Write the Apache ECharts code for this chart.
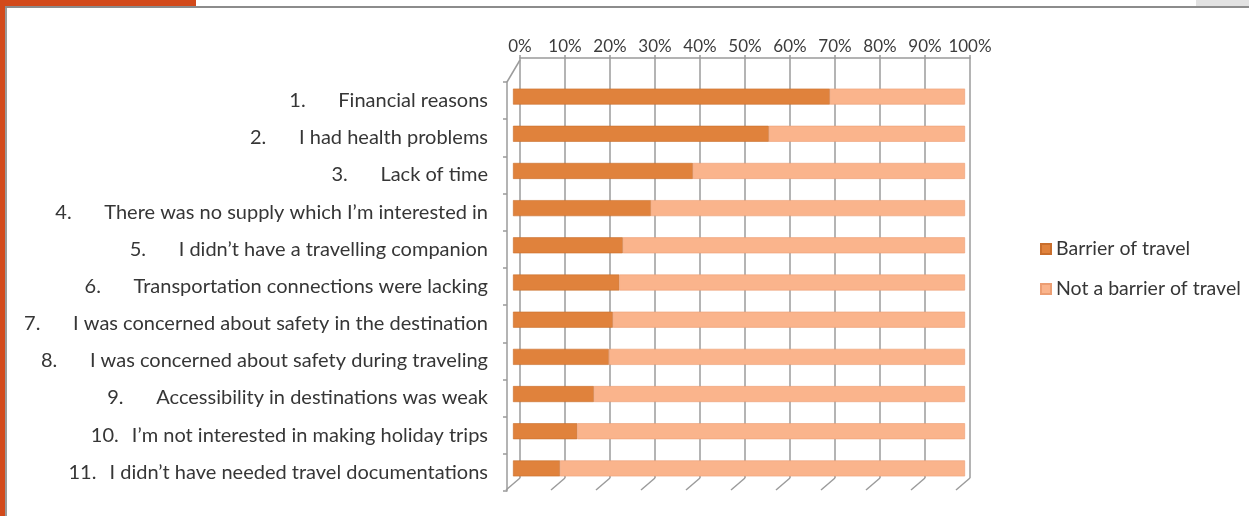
<!DOCTYPE html>
<html><head><meta charset="utf-8">
<script src="https://cdn.jsdelivr.net/npm/echarts@6/dist/echarts.min.js"></script>
<style>html,body{margin:0;padding:0;background:#fff}#c{width:1249px;height:516px}</style>
</head><body><div id="c"></div>
<script>
const itemNumbers = ['1.','2.','3.','4.','5.','6.','7.','8.','9.','10.','11.'];
const itemTexts = [
  'Financial reasons',
  'I had health problems',
  'Lack of time',
  'There was no supply which I’m interested in',
  'I didn’t have a travelling companion',
  'Transportation connections were lacking',
  'I was concerned about safety in the destination',
  'I was concerned about safety during traveling',
  'Accessibility in destinations was weak',
  'I’m not interested in making holiday trips',
  'I didn’t have needed travel documentations'
];
const barrier    = [70.1, 56.6, 39.8, 30.5, 24.3, 23.5, 22.1, 21.2, 17.9, 14.2, 10.4];
const notBarrier = [29.9, 43.4, 60.2, 69.5, 75.7, 76.5, 77.9, 78.8, 82.1, 85.8, 89.6];
const tickValues = [0,10,20,30,40,50,60,70,80,90,100];
const seriesNames = ['Barrier of travel','Not a barrier of travel'];

const FONT = 'Lato, "Open Sans", sans-serif';
const TXT = '#363636';
const chart = echarts.init(document.getElementById('c'), null, {renderer:'canvas'});
const gridColor = '#9b9b9b';

chart.setOption({
  animation:false,
  backgroundColor:'#ffffff',
  textStyle:{fontFamily:FONT},
  grid:[
    {left:520, right:279, top:58, bottom:38, outerBoundsMode:'none'},
    {left:513, right:284, top:78, bottom:29, outerBoundsMode:'none'},
    {left:507, right:284, top:82, bottom:25, outerBoundsMode:'none'}
  ],
  legend:{
    orient:'vertical', left:1035, top:232,
    itemWidth:10, itemHeight:10, itemGap:16,
    icon:'rect',
    textStyle:{fontSize:19.5, color:TXT, fontFamily:FONT, lineHeight:24},
    data:seriesNames
  },
  xAxis:[
    {gridIndex:0, type:'value', position:'top', min:0, max:100, interval:10,
     axisLine:{show:true, lineStyle:{color:gridColor, width:1.5}},
     axisTick:{show:true, length:3, lineStyle:{color:gridColor, width:1.5}},
     axisLabel:{formatter:'{value}%', fontSize:17, color:'#3c3c3c', margin:3, fontFamily:FONT, hideOverlap:false},
     splitLine:{show:true, lineStyle:{color:gridColor, width:1.5}}},
    {gridIndex:1, type:'value', min:0, max:100, show:false},
    {gridIndex:2, type:'value', min:0, max:100, show:false}
  ],
  yAxis:[
    {gridIndex:0, type:'category', data:itemTexts, show:false},
    {gridIndex:1, type:'category', data:itemTexts, inverse:true, show:false},
    {gridIndex:2, type:'category', data:itemTexts, inverse:true,
     axisLine:{show:true, lineStyle:{color:gridColor, width:1.5}},
     axisTick:{show:true, length:4, lineStyle:{color:gridColor, width:1.5}},
     splitLine:{show:false},
     axisLabel:{
       margin:19, color:TXT, fontSize:20, fontFamily:FONT,
       formatter:function(v, i){
         const n = itemNumbers[i];
         return '{' + (n.length > 2 ? 'm' : 'n') + '|' + n + '}{t|' + v + '}';
       },
       rich:{
         n:{width:49, align:'left', fontSize:20, color:TXT, fontFamily:FONT},
         m:{width:41, align:'left', fontSize:20, color:TXT, fontFamily:FONT},
         t:{fontSize:20, color:TXT, fontFamily:FONT}
       }
     }}
  ],
  series:[
    {name:seriesNames[0], type:'bar', stack:'s', xAxisIndex:1, yAxisIndex:1, barWidth:16,
     itemStyle:{color:'#E0823C', borderColor:'#C96E2C', borderWidth:0.6}, data:barrier},
    {name:seriesNames[1], type:'bar', stack:'s', xAxisIndex:1, yAxisIndex:1, barWidth:16,
     itemStyle:{color:'#FAB48C', borderColor:'#EC9E73', borderWidth:0.6}, data:notBarrier}
  ]
});

// decorative frame and 3D floor slants derived from the axis
const g = [
  {type:'rect', shape:{x:0,y:0,width:196,height:6}, style:{fill:'#D24A1B'}, z:10},
  {type:'rect', shape:{x:1196,y:0,width:53,height:6}, style:{fill:'#e2e2e2'}, z:10},
  {type:'rect', shape:{x:0,y:6,width:1249,height:2}, style:{fill:'#8c8c8c'}, z:10},
  {type:'rect', shape:{x:0,y:0,width:5,height:516}, style:{fill:'#D24A1B'}, z:11},
  {type:'rect', shape:{x:5,y:8,width:2,height:508}, style:{fill:'#9a9a9a'}, z:11}
];
tickValues.forEach(function(v){
  const x = chart.convertToPixel({xAxisIndex:0}, v);
  g.push({type:'line', shape:{x1:x-14, y1:490, x2:x, y2:478},
          style:{stroke:gridColor, lineWidth:1.5}, z:1});
});
g.push({type:'line', shape:{x1:507, y1:82, x2:520, y2:60}, style:{stroke:gridColor, lineWidth:1.5}, z:1});
chart.setOption({graphic:g});
</script>
</body></html>
